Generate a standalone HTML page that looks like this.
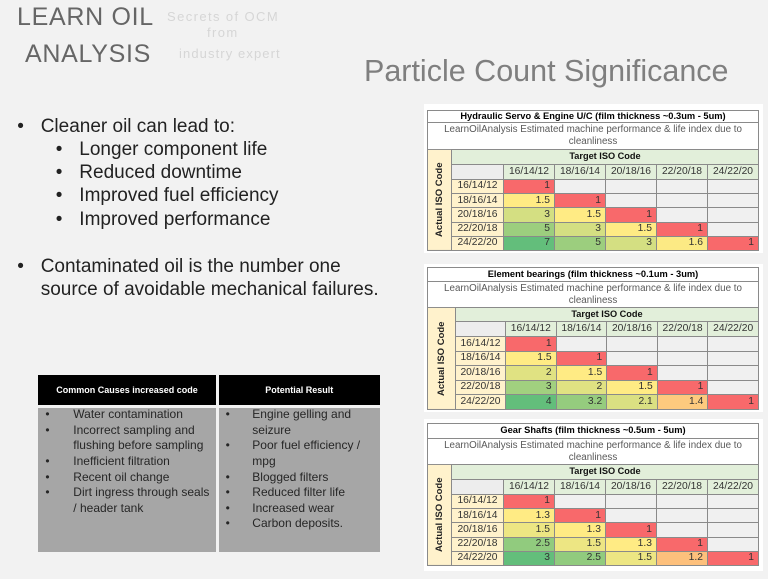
<!DOCTYPE html>
<html><head><meta charset="utf-8">
<style>
html,body{margin:0;padding:0}
body{width:768px;height:579px;overflow:hidden;position:relative;background:#f2f2f2;font-family:"Liberation Sans",Arial,sans-serif}
.a{position:absolute;white-space:nowrap}
.logo{font-size:25px;line-height:25px;color:#666;letter-spacing:0.7px}
.sm{font-size:13px;line-height:13px;color:#d6d6d6;letter-spacing:1.4px}
.title{font-size:30.5px;line-height:30.5px;color:#7f7f7f}
.b{font-size:19px;line-height:23px;color:#222}
.wb{position:absolute;left:424px;width:339px;background:#fff}
.tbl{position:absolute;left:427px;width:332px;display:grid;background:#8a8a8a;gap:1px;padding:1px;box-sizing:border-box}
.tbl>div{display:flex;align-items:center;overflow:hidden;line-height:1;white-space:nowrap;color:#333;font-size:10.3px}
.t{grid-column:1/-1;grid-row:1;background:#fff;justify-content:center;font-weight:bold;font-size:9.3px!important;color:#000!important}
.s{grid-column:1/-1;grid-row:2;background:#fff;justify-content:center;text-align:center;font-size:9.8px!important;line-height:12px!important;color:#595959!important}
.v{grid-column:1;grid-row:3/10;background:#fff2cc;justify-content:center;writing-mode:vertical-rl;transform:rotate(180deg);font-weight:bold;font-size:9.5px!important;color:#222!important}
.g{grid-column:2/8;grid-row:3;background:#e2efda;justify-content:center;font-weight:bold;font-size:9.2px!important;color:#111!important}
.hb{background:#ededed}
.h{background:#e2efda;justify-content:center}
.l{background:#fff2cc;justify-content:center}
.d{justify-content:flex-end;padding-right:4px}
.e{background:#f0f0f0}
.R{background:#f8696b}.Y{background:#ffeb84}
.bk{position:absolute;background:#000;color:#fff;font-weight:bold;font-size:9px;display:flex;align-items:center;justify-content:center}
.gy{position:absolute;background:#a6a6a6}
.bt{font-size:12px;line-height:15.6px;color:#262626}
</style></head><body>

<div class="a logo" style="left:17px;top:5px">LEARN OIL</div>
<div class="a logo" style="left:25px;top:42px">ANALYSIS</div>
<div class="a sm" style="left:167px;top:9.5px">Secrets of OCM</div>
<div class="a sm" style="left:207px;top:25.5px">from</div>
<div class="a sm" style="left:179px;top:46.5px;letter-spacing:1.1px">industry expert</div>

<div class="a title" style="left:364px;top:56px">Particle Count Significance</div>

<div class="a b" style="left:17.2px;top:115.2px">•</div>
<div class="a b" style="left:40.7px;top:115.2px">Cleaner oil can lead to:</div>
<div class="a b" style="left:55.7px;top:137.9px">•</div>
<div class="a b" style="left:79.3px;top:137.9px">Longer component life</div>
<div class="a b" style="left:55.7px;top:160.9px">•</div>
<div class="a b" style="left:79.3px;top:160.9px">Reduced downtime</div>
<div class="a b" style="left:55.7px;top:184.2px">•</div>
<div class="a b" style="left:79.3px;top:184.2px">Improved fuel efficiency</div>
<div class="a b" style="left:55.7px;top:207.9px">•</div>
<div class="a b" style="left:79.3px;top:207.9px">Improved performance</div>
<div class="a b" style="left:17.2px;top:255.2px">•</div>
<div class="a b" style="left:40.7px;top:255.2px">Contaminated oil is the number one</div>
<div class="a b" style="left:40.7px;top:277.6px">source of avoidable mechanical failures.</div>

<!-- bottom-left table -->
<div class="bk" style="left:38px;top:375px;width:178px;height:30px">Common Causes increased code</div>
<div class="bk" style="left:218.5px;top:375px;width:161.5px;height:30px">Potential Result</div>
<div class="gy" style="left:38px;top:408px;width:178px;height:144px"></div>
<div class="gy" style="left:218.5px;top:408px;width:161.5px;height:144px"></div>

<div class="a bt" style="left:45.4px;top:407.2px">•<br>•<br><br>•<br>•<br>•</div>
<div class="a bt" style="left:73.3px;top:407.2px">Water contamination<br>Incorrect sampling and<br>flushing before sampling<br>Inefficient filtration<br>Recent oil change<br>Dirt ingress through seals<br>/ header tank</div>
<div class="a bt" style="left:225.6px;top:407.2px">•<br><br>•<br><br>•<br>•<br>•<br>•</div>
<div class="a bt" style="left:252.3px;top:407.2px">Engine gelling and<br>seizure<br>Poor fuel efficiency /<br>mpg<br>Blogged filters<br>Reduced filter life<br>Increased wear<br>Carbon deposits.</div>

<!-- table 1 -->
<div class="wb" style="top:104px;height:149px"></div>
<div class="tbl" style="top:110px;height:141px;grid-template-columns:23px 51px repeat(5,50px);grid-template-rows:11px 26px 14px 14px repeat(5,13.2px)">
<div class="t">Hydraulic Servo &amp; Engine U/C (film thickness ~0.3um - 5um)</div>
<div class="s">LearnOilAnalysis Estimated machine performance &amp; life index due to<br>cleanliness</div>
<div class="v">Actual ISO Code</div>
<div class="g">Target ISO Code</div>
<div class="hb"></div><div class="h">16/14/12</div><div class="h">18/16/14</div><div class="h">20/18/16</div><div class="h">22/20/18</div><div class="h">24/22/20</div>
<div class="l">16/14/12</div><div class="d R">1</div><div class="e"></div><div class="e"></div><div class="e"></div><div class="e"></div>
<div class="l">18/16/14</div><div class="d Y">1.5</div><div class="d R">1</div><div class="e"></div><div class="e"></div><div class="e"></div>
<div class="l">20/18/16</div><div class="d" style="background:#d4df82">3</div><div class="d Y">1.5</div><div class="d R">1</div><div class="e"></div><div class="e"></div>
<div class="l">22/20/18</div><div class="d" style="background:#9cce7e">5</div><div class="d" style="background:#d4df82">3</div><div class="d Y">1.5</div><div class="d R">1</div><div class="e"></div>
<div class="l">24/22/20</div><div class="d" style="background:#63be7b">7</div><div class="d" style="background:#9cce7e">5</div><div class="d" style="background:#d4df82">3</div><div class="d" style="background:#fcea84">1.6</div><div class="d R">1</div>
</div>

<!-- table 2 -->
<div class="wb" style="top:264px;height:148px"></div>
<div class="tbl" style="top:267px;height:143px;grid-template-columns:27px 49px repeat(5,49.6px);grid-template-rows:13px 25px 13px 14px repeat(5,13.6px)">
<div class="t">Element bearings (film thickness ~0.1um - 3um)</div>
<div class="s">LearnOilAnalysis Estimated machine performance &amp; life index due to<br>cleanliness</div>
<div class="v">Actual ISO Code</div>
<div class="g">Target ISO Code</div>
<div class="hb"></div><div class="h">16/14/12</div><div class="h">18/16/14</div><div class="h">20/18/16</div><div class="h">22/20/18</div><div class="h">24/22/20</div>
<div class="l">16/14/12</div><div class="d R">1</div><div class="e"></div><div class="e"></div><div class="e"></div><div class="e"></div>
<div class="l">18/16/14</div><div class="d Y">1.5</div><div class="d R">1</div><div class="e"></div><div class="e"></div><div class="e"></div>
<div class="l">20/18/16</div><div class="d" style="background:#e0e282">2</div><div class="d Y">1.5</div><div class="d R">1</div><div class="e"></div><div class="e"></div>
<div class="l">22/20/18</div><div class="d" style="background:#a1d07f">3</div><div class="d" style="background:#e0e282">2</div><div class="d Y">1.5</div><div class="d R">1</div><div class="e"></div>
<div class="l">24/22/20</div><div class="d" style="background:#63be7b">4</div><div class="d" style="background:#95cc7e">3.2</div><div class="d" style="background:#dae082">2.1</div><div class="d" style="background:#fdca7e">1.4</div><div class="d R">1</div>
</div>

<!-- table 3 -->
<div class="wb" style="top:419px;height:152px"></div>
<div class="tbl" style="top:423px;height:143px;grid-template-columns:23px 51px repeat(5,50px);grid-template-rows:14px 25px 14px 14px repeat(5,13.2px)">
<div class="t">Gear Shafts (film thickness ~0.5um - 5um)</div>
<div class="s">LearnOilAnalysis Estimated machine performance &amp; life index due to<br>cleanliness</div>
<div class="v">Actual ISO Code</div>
<div class="g">Target ISO Code</div>
<div class="hb"></div><div class="h">16/14/12</div><div class="h">18/16/14</div><div class="h">20/18/16</div><div class="h">22/20/18</div><div class="h">24/22/20</div>
<div class="l">16/14/12</div><div class="d R">1</div><div class="e"></div><div class="e"></div><div class="e"></div><div class="e"></div>
<div class="l">18/16/14</div><div class="d Y">1.3</div><div class="d R">1</div><div class="e"></div><div class="e"></div><div class="e"></div>
<div class="l">20/18/16</div><div class="d" style="background:#ede683">1.5</div><div class="d Y">1.3</div><div class="d R">1</div><div class="e"></div><div class="e"></div>
<div class="l">22/20/18</div><div class="d" style="background:#91cb7e">2.5</div><div class="d" style="background:#ede683">1.5</div><div class="d Y">1.3</div><div class="d R">1</div><div class="e"></div>
<div class="l">24/22/20</div><div class="d" style="background:#63be7b">3</div><div class="d" style="background:#91cb7e">2.5</div><div class="d" style="background:#ede683">1.5</div><div class="d" style="background:#fdc07c">1.2</div><div class="d R">1</div>
</div>

</body></html>
